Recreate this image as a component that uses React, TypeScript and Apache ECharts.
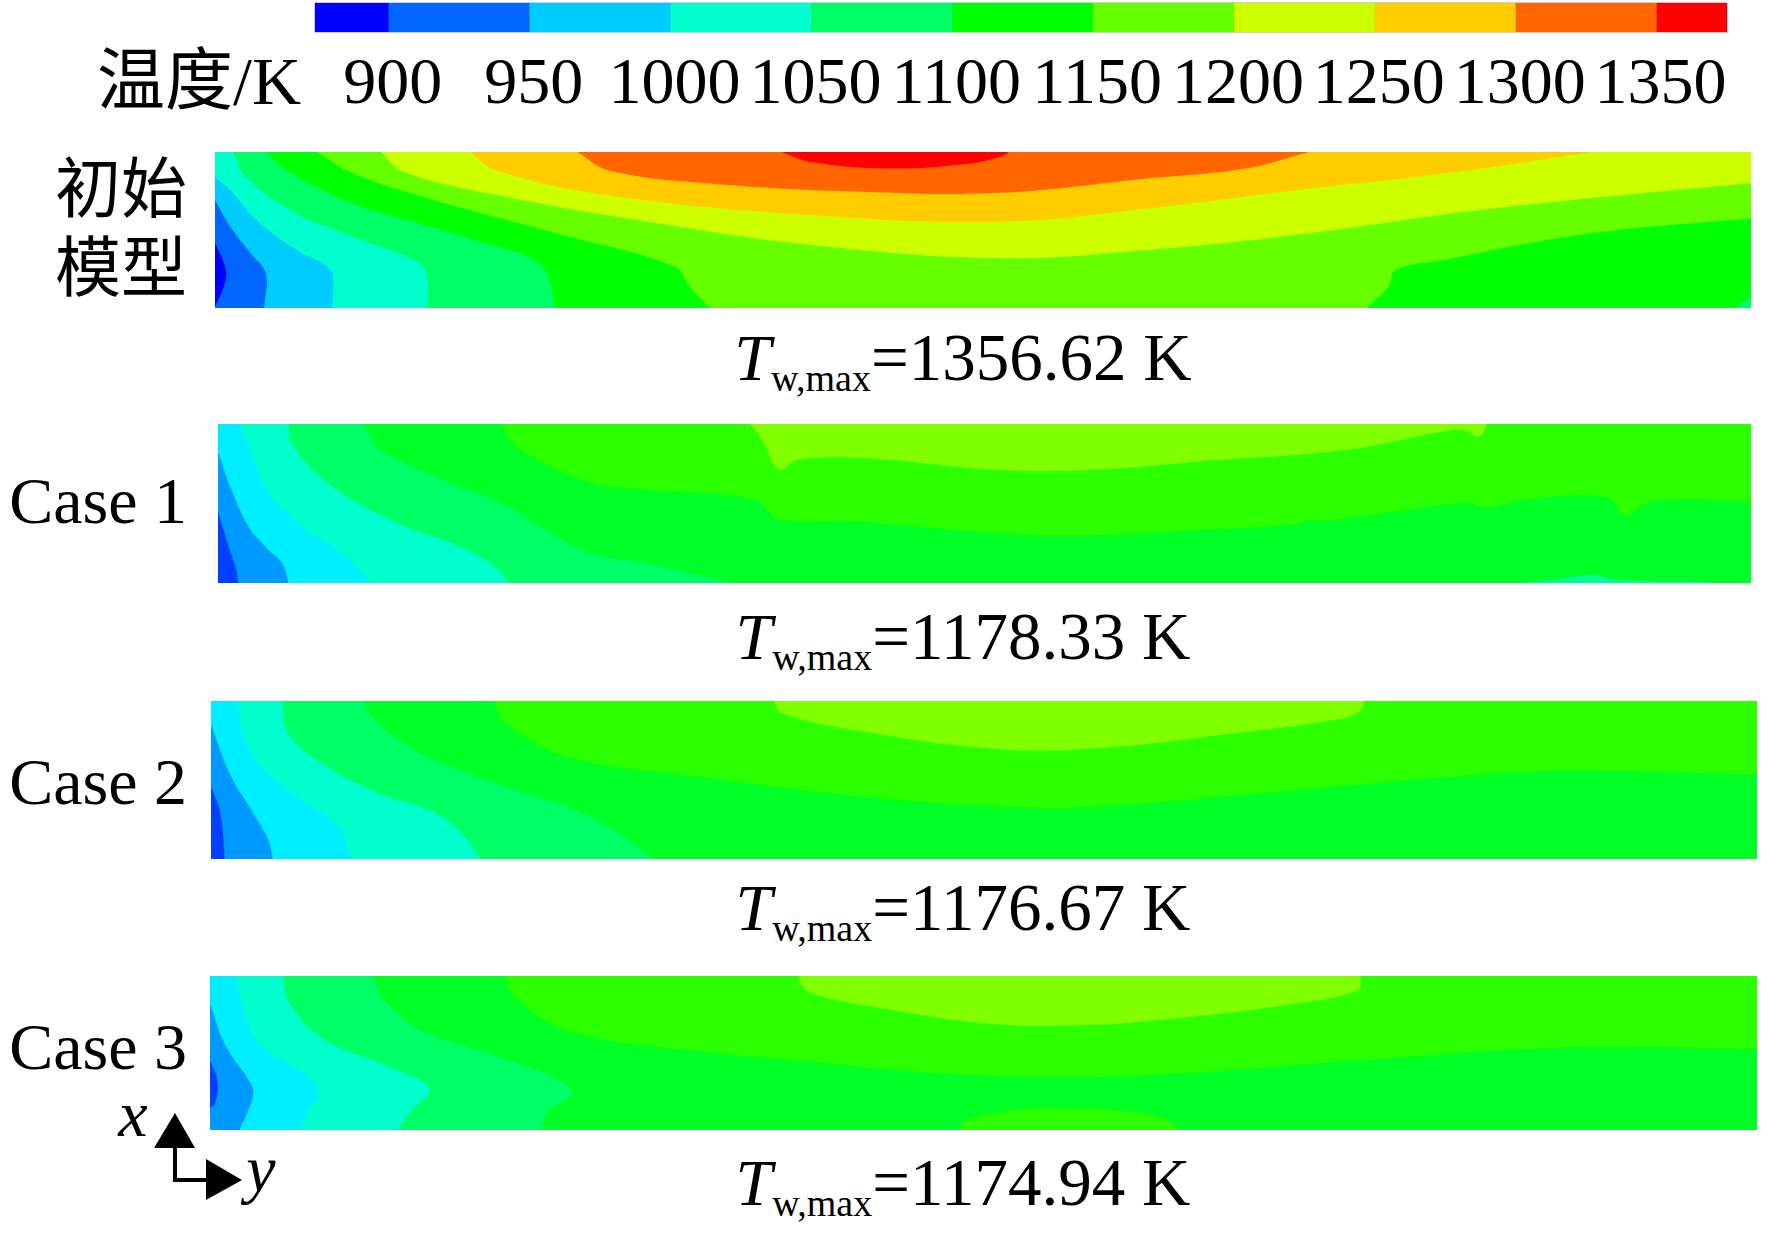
import React, { useEffect, useRef } from "react";
import * as echarts from "echarts";

// Legend
const legendLevels = [900, 950, 1000, 1050, 1100, 1150, 1200, 1250, 1300, 1350];
const legendLow = 873.8;
const legendHigh = 1375;
const legendColors = ["#0000ff", "#0066ff", "#00ccff", "#00ffcc", "#00ff66", "#00ff00", "#66ff00", "#ccff00", "#ffcc00", "#ff6600", "#ff0000"];
const caseColors = ["#0040ff", "#0099ff", "#00eeff", "#00ffcc", "#00ff66", "#00ff26", "#2bff00", "#80ff00"];

const panelNames = ["初始\n模型", "Case 1", "Case 2", "Case 3"];
const maxTemps = ["1356.62", "1178.33", "1176.67", "1174.94"];

// Isotherms: [position along wall %, position across wall %]
const init900 = [[0, 58.5], [0.7, 75.5], [0.5, 88.3], [0, 99]];
const init950 = [[0, 30.9], [1, 47.9], [2.3, 64.9], [3.3, 77.7], [3.2, 100]];
const init1000 = [[0, 16], [1, 24.5], [2.7, 43.6], [5.3, 62.8], [7.3, 73.4], [7.7, 81.9], [7.6, 100]];
const init1050 = [[1.2, 0], [2, 16], [5.3, 39.4], [9, 54.3], [13.3, 71.3], [13.8, 79.8], [13.8, 100]];
const init1100 = [[3.3, 0], [5, 13.8], [9, 33], [12.9, 44.7], [17.6, 58.5], [21.2, 72.4], [22.2, 100]];
const init1150 = [[6.6, 0], [9, 13.8], [13.9, 29.8], [22.2, 52.1], [29.9, 73.4], [30.9, 86.2], [32.2, 100]];
const init1200 = [[10.8, 0], [12.3, 12.8], [18.9, 28.7], [28.9, 45.8], [38.8, 59.6], [51.1, 68.1], [60.7, 62.8], [70.3, 53.2], [83.2, 36.2], [100, 19.8]];
const init1250 = [[16.6, 0], [18.3, 11.7], [25.6, 27.7], [38.8, 40.4], [51.1, 44.7], [60.7, 36.2], [70.3, 24.5], [80, 13.8], [89, 1]];
const init1300 = [[23.6, 0], [25.6, 11.7], [32.2, 20.2], [42.2, 25.5], [51.1, 26.2], [60.7, 17], [67.1, 10.6], [71, 0.6]];
const init1350 = [[36.9, 0], [38.8, 6.4], [43.8, 10.6], [48.8, 7.9], [51.1, 3.2], [51.7, 0]];
const init1150Right = [[75, 100], [76.4, 86.2], [76.9, 75.5], [80, 69.2], [89.6, 52.1], [100, 42.6]];
const initCorner = [[98.9, 100], [100, 92.6]];

const c1A = [[0, 55.2], [0.7, 77.3], [1.2, 92], [1.3, 100]];
const c1B = [[0, 17.4], [0.8, 39.5], [2, 64.7], [3.2, 78.3], [4.2, 87.8], [4.6, 100]];
const c1C = [[1.4, 0], [2.2, 18.5], [3.2, 41.6], [5.5, 64.7], [7.8, 79.4], [10, 100]];
const c1D = [[4.6, 0], [4.8, 12.2], [7.2, 37.4], [11.5, 61.5], [15.5, 76.2], [17.8, 87.8], [19, 100]];
const c1E = [[9.5, 0], [10.5, 15.3], [14.2, 33.2], [18.5, 50], [24.1, 80.4], [28.1, 87.8], [33.5, 100]];
const c1F = [[18.5, 0], [19.5, 14.3], [23.8, 35.3], [27.1, 40.5], [35, 47.5], [36.5, 59.4], [42.1, 61.5], [51, 68.9], [57.4, 69.9], [63.9, 66.8], [70.3, 63], [71.2, 60], [72.2, 60.9], [81.5, 49.6], [82.8, 52.5], [85.1, 47.9], [90.5, 45.8], [91.8, 57.3], [93.1, 50], [96, 47.5], [100, 48.9]];
const c1G = [[34.7, 0], [35.5, 10], [36.6, 29], [37.8, 22.7], [42.1, 21.6], [51, 29], [57.4, 28.6], [63.9, 23.7], [73.5, 16.4], [79.9, 4.8], [81.2, 3.8], [82.3, 8], [82.8, 0]];
const c1H = [[85.1, 100], [87.3, 97.9], [89.6, 95.1], [91.5, 98.3], [96.9, 99.3], [97.6, 100]];

const c2A = [[0, 54.1], [0.6, 70.9], [0.9, 100]];
const c2B = [[0, 15.2], [1.3, 47.8], [2.6, 68.8], [3.7, 87.8], [4, 100]];
const c2C = [[1.7, 0], [2.2, 24.6], [3.6, 45.7], [6.5, 66.7], [8.2, 79.4], [9.1, 100]];
const c2D = [[4.6, 0], [5, 20.4], [7.2, 39.4], [10.8, 58.3], [14.5, 70.9], [16.4, 85.7], [17.4, 100]];
const c2E = [[9.8, 0], [10.8, 14.1], [13.8, 34.1], [19.1, 54.1], [24, 70.9], [26.7, 85.7], [28.6, 100]];
const c2F = [[18.2, 0], [19.1, 14.1], [23, 35.2], [32.3, 48.8], [42.2, 60.4], [51, 66.7], [57.4, 66.7], [66.9, 59.4], [76.5, 50.9], [86, 44.6], [92.4, 44.6], [100, 46.7]];
const c2G = [[36.4, 0], [36.9, 7.8], [42.2, 19.4], [51, 30.5], [57.4, 29.9], [65.3, 21.5], [73.3, 10.9], [74.4, 5.7], [74.6, 0]];

const c3A = [[0, 54.9], [0.5, 69.1], [0.3, 83.2], [0, 85.4]];
const c3B = [[0, 17.9], [1, 45.1], [2.6, 69.1], [2.8, 75.6], [2.5, 86.5], [1.9, 100]];
const c3C = [[1.7, 0], [2.1, 21.1], [3.3, 45.1], [5.9, 62.5], [7, 74.5], [6.3, 88.7], [5.8, 100]];
const c3D = [[4.7, 0], [5.1, 16.8], [7.3, 40.7], [11.9, 60.4], [14.2, 73.4], [12.9, 88.7], [12.2, 100]];
const c3E = [[10.5, 0], [11.2, 14.6], [13.9, 36.4], [19.1, 53.8], [23.4, 74.5], [21.8, 88.7], [21.4, 100]];
const c3F = [[19, 0], [19.8, 14.6], [23.4, 36.4], [32.3, 49.5], [38.1, 54.9], [46.2, 62.5], [54.2, 65.8], [62.2, 63.6], [74.2, 54.9], [86.2, 46.8], [94.2, 46.2], [100, 47.3]];
const c3G = [[38.1, 0], [38.1, 3.7], [38.9, 11.3], [44.2, 22.2], [50.2, 30.9], [56.2, 32], [62.2, 27.7], [70.2, 17.9], [74.2, 9.2], [74.4, 0]];
const c3H = [[48.4, 100], [49, 93], [52.2, 86.9], [55.4, 86.1], [59, 87.6], [61.8, 93], [62.7, 100]];

type Band = { c: string; side: "left" | "top" | "bottom" | "patch"; pts: number[][] };

const L = legendColors;
const C = caseColors;
const panelBands: Band[][] = [
  [
    { c: L[7], side: "top", pts: init1200 },
    { c: L[8], side: "top", pts: init1250 },
    { c: L[9], side: "top", pts: init1300 },
    { c: L[10], side: "top", pts: init1350 },
    { c: L[5], side: "left", pts: init1150 },
    { c: L[4], side: "left", pts: init1100 },
    { c: L[3], side: "left", pts: init1050 },
    { c: L[2], side: "left", pts: init1000 },
    { c: L[1], side: "left", pts: init950 },
    { c: L[0], side: "left", pts: init900 },
    { c: L[5], side: "patch", pts: init1150Right },
    { c: L[4], side: "patch", pts: initCorner },
  ],
  [
    { c: C[7], side: "top", pts: c1G },
    { c: C[5], side: "bottom", pts: c1F },
    { c: C[4], side: "left", pts: c1E },
    { c: C[3], side: "left", pts: c1D },
    { c: C[2], side: "left", pts: c1C },
    { c: C[1], side: "left", pts: c1B },
    { c: C[0], side: "left", pts: c1A },
    { c: "#00ff99", side: "patch", pts: c1H },
  ],
  [
    { c: C[7], side: "top", pts: c2G },
    { c: C[5], side: "bottom", pts: c2F },
    { c: C[4], side: "left", pts: c2E },
    { c: C[3], side: "left", pts: c2D },
    { c: C[2], side: "left", pts: c2C },
    { c: C[1], side: "left", pts: c2B },
    { c: C[0], side: "left", pts: c2A },
  ],
  [
    { c: C[7], side: "top", pts: c3G },
    { c: C[5], side: "bottom", pts: c3F },
    { c: C[4], side: "left", pts: c3E },
    { c: C[3], side: "left", pts: c3D },
    { c: C[2], side: "left", pts: c3C },
    { c: C[1], side: "left", pts: c3B },
    { c: C[0], side: "left", pts: c3A },
    { c: C[6], side: "patch", pts: c3H },
  ],
];
const panelBase = [L[6], C[6], C[6], C[6]];

const panelRects = [
  { left: 215, top: 152, width: 1536, height: 156 },
  { left: 218, top: 424, width: 1533, height: 159 },
  { left: 211, top: 701, width: 1546, height: 158 },
  { left: 210, top: 976, width: 1547, height: 154 },
];
const labelCenters = [229, 500, 781, 1046];
const tempCenters = [357, 636, 907, 1182];

const SERIF = '"Liberation Serif","Noto Sans CJK SC",serif';

function closeBand(b: Band): number[][] {
  const p = b.pts;
  const first = p[0];
  const last = p[p.length - 1];
  // carry the line straight past the panel edge so the spline keeps its direction there
  const head = [first[0] + (first[0] - p[1][0]) * 0.6, first[1] + (first[1] - p[1][1]) * 0.6];
  const prev = p[p.length - 2];
  const tail = [last[0] + (last[0] - prev[0]) * 0.6, last[1] + (last[1] - prev[1]) * 0.6];
  const line = [head, ...p, tail];
  if (b.side === "left") return [...line, [-30, 130], [-30, -30]];
  if (b.side === "top") return [...line, [last[0] + 30, -30], [first[0] - 30, -30]];
  if (b.side === "bottom") return [...line, [130, 130], [-30, 130], [-30, -30]];
  return [...line, [last[0] + 30, 130], [first[0] - 30, 130]];
}

function contourSeries(i: number) {
  const bands = panelBands[i];
  return {
    type: "custom",
    xAxisIndex: i,
    yAxisIndex: i,
    clip: true,
    silent: true,
    encode: { x: 0, y: 1 },
    data: bands.map((_, k) => ({ value: [50, 50, k] })),
    renderItem: (_p: any, api: any) => {
      const b = bands[api.value(2)];
      return {
        type: "polygon",
        shape: { points: closeBand(b).map((p) => api.coord(p)), smooth: 0.4 },
        style: { fill: b.c },
      };
    },
  };
}

export default function App() {
  const ref = useRef<HTMLDivElement>(null);
  useEffect(() => {
    const chart = echarts.init(ref.current!, null, { renderer: "svg" });
    const legendEdges = [legendLow, ...legendLevels, legendHigh];
    const grids: any[] = panelRects.map((r, i) => ({
      ...r,
      show: true,
      backgroundColor: panelBase[i],
      borderWidth: 0,
    }));
    grids.push({ left: 315, top: 3, width: 1412, height: 29, show: true, backgroundColor: "#fff", borderColor: "#c8cde0", borderWidth: 2 });

    const xAxes: any[] = panelRects.map((_, i) => ({ type: "value", gridIndex: i, min: 0, max: 100, show: false }));
    xAxes.push({
      type: "value",
      gridIndex: 4,
      min: legendLow,
      max: legendHigh,
      axisLine: { show: false },
      splitLine: { show: false },
      axisTick: { show: true, inside: true, length: 29, customValues: legendLevels, lineStyle: { color: "rgba(0,30,30,0.55)", width: 1.5 } },
      axisLabel: { customValues: legendLevels, formatter: (v: number) => String(v), margin: 15, color: "#000", fontFamily: SERIF, fontSize: 66, padding: [0, 0, 0, 8], hideOverlap: false, showMinLabel: true, showMaxLabel: true },
    });
    const yAxes: any[] = panelRects.map((_, i) => ({ type: "value", gridIndex: i, min: 0, max: 100, inverse: true, show: false }));
    yAxes.push({ type: "value", gridIndex: 4, min: 0, max: 1, show: false });

    const legendSeries = {
      type: "custom",
      xAxisIndex: 4,
      yAxisIndex: 4,
      silent: true,
      z: 1,
      encode: { x: 0, y: 1 },
      data: legendColors.map((_, k) => ({ value: [legendEdges[k], 0, k] })),
      renderItem: (_p: any, api: any) => {
        const k = api.value(2);
        const a = api.coord([legendEdges[k], 1]);
        const b = api.coord([legendEdges[k + 1], 0]);
        return { type: "rect", shape: { x: a[0], y: a[1], width: b[0] - a[0], height: b[1] - a[1] }, style: { fill: legendColors[k] } };
      },
    };

    const graphic: any[] = [
      { type: "text", x: 301, y: 81, style: { text: "温度/K", font: `68px ${SERIF}`, fill: "#000", align: "right", verticalAlign: "middle" } },
    ];
    panelNames.forEach((name, i) => {
      graphic.push({
        type: "text",
        x: 187,
        y: labelCenters[i],
        style: { text: name, font: `66px ${SERIF}`, lineHeight: 79, fill: "#000", align: "right", verticalAlign: "middle" },
      });
      graphic.push({
        type: "text",
        x: 963,
        y: tempCenters[i],
        style: {
          text: `{t|T}{s|w,max}{v|=${maxTemps[i]} K}`,
          align: "center",
          verticalAlign: "middle",
          fill: "#000",
          rich: {
            t: { fontFamily: SERIF, fontStyle: "italic", fontSize: 66, lineHeight: 80, fill: "#000" },
            s: { fontFamily: SERIF, fontSize: 38, lineHeight: 30, verticalAlign: "bottom", fill: "#000" },
            v: { fontFamily: SERIF, fontSize: 67, lineHeight: 80, fill: "#000" },
          },
        },
      });
    });
    // Axis triad
    graphic.push(
      { type: "polygon", shape: { points: [[175, 1113], [154, 1148], [195, 1148]] }, style: { fill: "#000" } },
      { type: "polygon", shape: { points: [[206, 1159], [206, 1200], [242, 1180]] }, style: { fill: "#000" } },
      { type: "polyline", shape: { points: [[175, 1148], [175, 1180], [206, 1180]] }, style: { stroke: "#000", lineWidth: 4, fill: "none" } },
      { type: "text", x: 133, y: 1113, style: { text: "x", font: `italic 66px ${SERIF}`, fill: "#000", align: "center", verticalAlign: "middle" } },
      { type: "text", x: 261, y: 1168, style: { text: "y", font: `italic 66px ${SERIF}`, fill: "#000", align: "center", verticalAlign: "middle" } },
    );

    chart.setOption({
      animation: false,
      backgroundColor: "#fff",
      grid: grids,
      xAxis: xAxes,
      yAxis: yAxes,
      series: [...panelRects.map((_, i) => contourSeries(i)), legendSeries],
      graphic,
    });
    return () => chart.dispose();
  }, []);
  return <div ref={ref} style={{ position: "absolute", left: 0, top: 0, width: 1772, height: 1241 }} />;
}
